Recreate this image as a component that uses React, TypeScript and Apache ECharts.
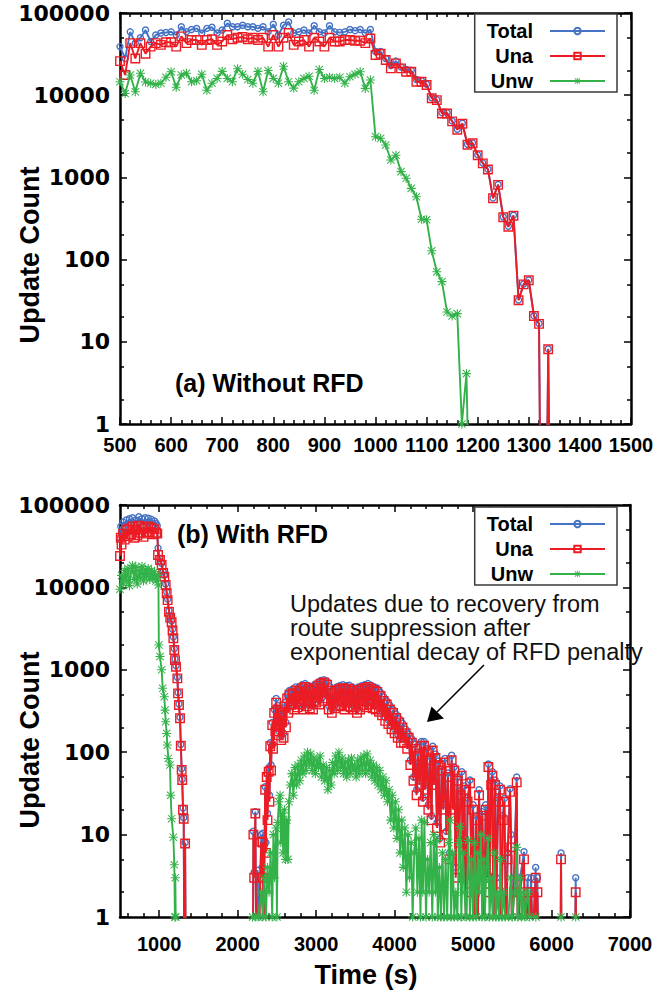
import React, { useEffect, useRef } from "react";
import * as echarts from "echarts";

// ---------------- DATA ----------------
// Panel (a): Without RFD
const topTimeTU = [
  500, 510, 520, 530, 540, 550, 560, 570, 580, 590,
  600, 610, 620, 630, 640, 650, 660, 670, 680, 690,
  700, 710, 720, 730, 740, 750, 760, 770, 780, 790,
  800, 810, 820, 830, 840, 850, 860, 870, 880, 890,
  900, 910, 920, 930, 940, 950, 960, 970, 980, 990,
  1000, 1010, 1020, 1030, 1040, 1050, 1060, 1070, 1080, 1090,
  1100, 1110, 1120, 1130, 1140, 1150, 1160, 1170, 1180, 1190,
  1200, 1210, 1220, 1230, 1240, 1250, 1260, 1270, 1280, 1290,
  1300, 1310, 1320, 1322, 1336, 1338, 1340,
];
const topTotal = [
  39000, 28000, 59000, 43000, 50000, 62000, 45000, 54000, 57000, 58000,
  59000, 54000, 68000, 59000, 63000, 65000, 57000, 65000, 67000, 57000,
  62000, 75000, 68000, 68000, 71000, 68000, 68000, 65000, 68000, 59000,
  73000, 54000, 71000, 78000, 57000, 59000, 62000, 57000, 70000, 59000,
  57000, 70000, 59000, 58000, 59000, 63000, 61000, 63000, 57000, 63000,
  34000, 34000, 28000, 23000, 26000, 22000, 20500, 20000, 15500, 15000,
  13600, 9300, 8800, 6100, 6100, 4850, 3850, 4550, 2530, 2630,
  1880, 1500, 1260, 563, 820, 330, 254, 346, 32.3, 50.5,
  56.5, 20.8, 16.7, 0.5, 0.5, 8.2, 0.5,
];
const topUna = [
  26000, 17600, 43000, 28000, 43000, 32000, 39000, 43000, 41000, 44000,
  44000, 39000, 52000, 43000, 47000, 47000, 41000, 47000, 48000, 41000,
  45000, 54000, 48000, 50000, 51000, 48000, 50000, 47000, 50000, 39000,
  54000, 39000, 50000, 57000, 41000, 45000, 47000, 39000, 50000, 45000,
  39000, 50000, 45000, 45000, 47000, 47000, 46000, 46000, 43000, 49000,
  30800, 32000, 26800, 21200, 24400, 21200, 19300, 19300, 14600, 14600,
  13300, 9200, 8700, 6000, 6000, 4800, 3800, 4500, 2500, 2600,
  1860, 1480, 1250, 557, 810, 327, 251, 342, 32, 50,
  56, 20.6, 16.5, 0.5, 0.5, 8.1, 0.5,
];
const topTimeW = [
  500, 510, 520, 530, 540, 550, 560, 570, 580, 590,
  600, 610, 620, 630, 640, 650, 660, 670, 680, 690,
  700, 710, 720, 730, 740, 750, 760, 770, 780, 790,
  800, 810, 820, 830, 840, 850, 860, 870, 880, 890,
  900, 910, 920, 930, 940, 950, 960, 970, 980, 990,
  1000, 1010, 1020, 1030, 1040, 1050, 1060, 1070, 1080, 1090,
  1100, 1110, 1120, 1130, 1140, 1150, 1160, 1169, 1178, 1181,
];
const topUnw = [
  14600, 10500, 17600, 11000, 18500, 14500, 14000, 13500, 14000, 16500,
  19300, 12500, 17600, 18500, 14600, 15000, 18000, 11500, 14000, 16000,
  19500, 16000, 14600, 21000, 18000, 15500, 14000, 19500, 11000, 20000,
  16000, 14000, 22500, 14600, 12200, 14600, 16000, 17000, 11500, 20500,
  16000, 16500, 16000, 16500, 14000, 16800, 18000, 19300, 12100, 15300,
  3130, 2990, 2480, 1630, 1860, 1175, 975, 736, 582, 310,
  305, 128, 71, 54, 23, 20.6, 22, 1, 4.1, 0.5,
];

// Panel (b): With RFD
const botTimeTU = [
  500, 510, 520, 540, 560, 580, 600, 620, 640, 660,
  680, 700, 720, 740, 760, 780, 800, 820, 840, 860,
  880, 900, 920, 940, 960, 975, 985,
  1010, 1031, 1050, 1065, 1082, 1095, 1107, 1124, 1140, 1158,
  1170, 1180, 1192, 1201, 1214, 1231, 1240, 1252, 1265, 1275,
  1286, 1293, 1303, 1312, 1318, 1330, 1336,
  2195, 2200, 2210, 2225, 2235, 2255, 2270, 2300, 2310, 2320,
  2330, 2350, 2360, 2370, 2380, 2395, 2405, 2415, 2425, 2440,
  2450, 2465, 2480, 2490, 2500, 2510, 2525, 2540, 2555, 2570,
  2585, 2600, 2615, 2630, 2645, 2660, 2680,
  2700, 2720, 2740, 2760, 2780, 2800, 2820, 2840, 2860, 2880,
  2900, 2920, 2940, 2960, 2980, 3000, 3020, 3040, 3060, 3080,
  3100, 3120, 3140, 3160, 3180, 3200, 3220, 3240, 3260, 3280,
  3300, 3320, 3340, 3360, 3380, 3400, 3420, 3440, 3460, 3480,
  3500, 3520, 3540, 3560, 3580, 3600, 3620, 3640, 3660, 3680,
  3700, 3720, 3740, 3760, 3780, 3800, 3820, 3840, 3860, 3880,
  3900, 3920, 3940, 3960, 3980, 4000, 4020, 4040, 4060, 4080,
  4100,
  4120, 4140, 4160, 4180, 4200, 4220, 4240, 4260, 4280, 4300,
  4320, 4340, 4360, 4375, 4390, 4410, 4430, 4450, 4470, 4485,
  4500, 4520, 4540, 4560, 4580, 4600, 4620, 4640, 4660, 4680,
  4700, 4727, 4745, 4760, 4780, 4800, 4820, 4840, 4855, 4870,
  4890, 4910, 4930, 4961, 4980, 5000, 5020, 5040, 5060, 5076,
  5090, 5118, 5140, 5160, 5180, 5195, 5210, 5230, 5246, 5260,
  5280, 5300, 5320, 5343, 5360, 5380, 5399, 5420, 5440, 5471,
  5485, 5495, 5520, 5556, 5570, 5600, 5649, 5660, 5696, 5705,
  5740, 5760, 5798, 5805, 5820, 5830, 6115, 6121, 6127, 6300,
  6308, 6316,
];
const botUna = [
  24000, 40000, 33000, 45000, 38000, 50000, 42000, 52000, 44000, 55000,
  40000, 50000, 43000, 56000, 46000, 52000, 41000, 54000, 45000, 55000,
  47000, 53000, 44000, 51000, 46000, 45000, 24700,
  21500, 18700, 15000, 13500, 10700, 8500, 7000, 5070, 4300, 3770,
  3000, 2410, 1740, 1310, 1090, 787, 518, 374, 258, 120,
  61, 46, 20, 15.6, 0.5, 7.8, 0.5,
  0.5, 10, 3, 18, 0.5, 0.5, 0.5, 8.2, 3, 8,
  0.5, 35, 6, 50, 15, 58, 25, 118, 60, 213,
  110, 300, 180, 400, 210, 330, 160, 300, 140, 280,
  150, 360, 200, 450, 300, 500, 380,
  520, 330, 560, 350, 550, 380, 600, 330, 620, 360,
  580, 340, 560, 330, 600, 400, 640, 380, 680, 420,
  700, 450, 660, 330, 560, 300, 520, 340, 560, 360,
  580, 370, 600, 330, 580, 360, 590, 350, 560, 330,
  520, 300, 560, 330, 580, 370, 600, 350, 620, 380,
  590, 340, 560, 330, 540, 310, 480, 280, 420, 240,
  380, 220, 330, 190, 300, 170, 260, 150, 230, 130,
  200,
  130, 170, 110, 150, 70, 130, 45, 110, 30, 90,
  40, 120, 25, 120, 35, 100, 20, 80, 15, 105,
  40, 85, 12, 70, 8, 60, 20, 75, 10, 50,
  5, 80, 20, 60, 3, 45, 8, 30, 52, 3,
  35, 0.5, 25, 42, 2, 20, 0.5, 15, 0.5, 30,
  5, 17, 0.5, 20, 3, 66, 2, 40, 52, 0.5,
  40, 2, 25, 35, 0.5, 15, 25, 0.5, 5, 33,
  7, 0.5, 2, 43, 0.5, 2, 5, 0.5, 2, 0.5,
  2, 0.5, 3, 0.5, 2, 0.5, 0.5, 5, 0.5, 0.5,
  2, 0.5,
];
const botTotal = [
  40000, 55000, 48000, 62000, 55000, 66000, 58000, 68000, 60000, 70000,
  57000, 66000, 59000, 72000, 62000, 68000, 57000, 70000, 61000, 69000,
  62000, 67000, 58000, 64000, 60000, 56000, 30000,
  22500, 19500, 15500, 14000, 11000, 8800, 7200, 5200, 4400, 3900,
  3100, 2500, 1800, 1350, 1120, 810, 530, 385, 265, 124,
  63, 47, 21, 16, 0.5, 8, 0.5,
  0.5, 11, 3.5, 19, 0.5, 3.7, 0.5, 10, 4, 10.4,
  0.5, 38, 8, 55, 18, 65, 30, 130, 70, 230,
  125, 330, 200, 450, 240, 370, 180, 340, 160, 320,
  170, 400, 230, 500, 340, 560, 420,
  580, 365, 620, 385, 610, 420, 660, 365, 680, 400,
  640, 375, 620, 365, 660, 440, 700, 420, 740, 460,
  760, 500, 720, 365, 620, 330, 570, 375, 620, 400,
  640, 410, 660, 365, 640, 400, 650, 385, 620, 365,
  580, 330, 620, 365, 640, 410, 660, 385, 680, 420,
  650, 375, 620, 365, 600, 345, 530, 310, 470, 265,
  420, 245, 370, 210, 330, 190, 290, 165, 255, 145,
  225,
  145, 190, 148, 165, 80, 145, 50, 125, 35, 100,
  45, 135, 28, 135, 40, 110, 23, 90, 17, 118,
  45, 95, 14, 78, 9, 68, 23, 84, 11, 56,
  6, 92, 23, 66, 4, 50, 9, 34, 58, 4,
  39, 0.5, 28, 46, 3, 23, 0.5, 17, 0.5, 35,
  6, 19, 0.5, 23, 4, 72, 3, 45, 58, 0.5,
  46, 3, 28, 39, 0.5, 17, 27.5, 0.5, 6, 36,
  10, 0.5, 3, 50, 0.5, 3, 6.2, 0.5, 3, 0.5,
  3, 0.5, 4, 0.5, 3, 0.5, 0.5, 6, 0.5, 0.5,
  3, 0.5,
];
const botTimeW = [
  500, 520, 540, 560, 580, 600, 620, 640, 660, 680,
  700, 720, 740, 760, 780, 800, 820, 840, 860, 880,
  900, 920, 940, 960, 980, 990, 995, 1010, 1031, 1044,
  1065, 1074, 1082, 1095, 1103, 1116, 1137, 1146, 1158, 1180,
  1192, 1200, 1205, 1210, 1215,
  2190, 2230, 2260, 2300, 2320, 2340, 2360, 2380, 2400, 2420,
  2440, 2455, 2470, 2490, 2500, 2510, 2525, 2540, 2550, 2565,
  2580, 2595, 2610, 2625, 2640, 2655, 2670, 2690, 2710, 2730,
  2750, 2770, 2790, 2810, 2830, 2850, 2870, 2890, 2910, 2930,
  2950, 2970, 2990, 3010, 3030, 3050, 3070, 3090, 3110, 3130,
  3150, 3170, 3190, 3210, 3230, 3250, 3270, 3290, 3310, 3330,
  3350, 3370, 3390, 3410, 3430, 3450, 3470, 3490, 3510, 3530,
  3550, 3570, 3590, 3610, 3630, 3650, 3670, 3690, 3710, 3730,
  3750, 3770, 3790, 3810, 3830, 3850, 3870, 3890, 3910, 3930,
  3950, 3970, 3990, 4010, 4030, 4050, 4070, 4090, 4110, 4130,
  4150, 4170, 4190, 4210, 4230, 4250,
  4270, 4290, 4310, 4330, 4345, 4360, 4380, 4400, 4420, 4440,
  4460, 4480, 4500, 4520, 4536, 4550, 4570, 4590, 4610, 4630,
  4650, 4670, 4690, 4706, 4720, 4740, 4760, 4780, 4800, 4820,
  4834, 4850, 4870, 4890, 4910, 4940, 4960, 4980, 5000, 5020,
  5040, 5060, 5080, 5100, 5115, 5135, 5150, 5170, 5190, 5210,
  5230, 5250, 5270, 5290, 5310, 5330, 5350, 5370, 5390, 5410,
  5450, 5480, 5500, 5530, 5556, 5570, 5600, 5620, 5640, 5660,
  5700, 5720, 5800, 5810, 6121, 6130, 6308,
];
const botUnw = [
  9500, 14000, 11000, 16000, 12000, 17000, 10500, 15500, 18500, 12500,
  17500, 11000, 16000, 13000, 18000, 12000, 16500, 13500, 17000, 12500,
  16000, 13000, 15500, 12000, 14000, 10700, 2000, 1450, 1000, 596,
  471, 324, 234, 169, 122, 84, 70, 30, 15.6, 9.3,
  4.3, 1, 3, 1, null,
  1, 1, 1, 2, 1, 3, 1, 4, 2, 6,
  1, 10, 3, 12, 1, 14, 25, 30, 8, 18,
  6, 20, 5, 15, 5, 25, 40, 55, 30, 65,
  40, 70, 45, 80, 55, 90, 60, 100, 70, 95,
  60, 85, 55, 80, 65, 90, 50, 70, 45, 65,
  35, 60, 40, 75, 55, 90, 60, 100, 65, 85,
  55, 75, 50, 80, 55, 85, 60, 70, 50, 80,
  55, 85, 60, 90, 55, 95, 60, 80, 50, 70,
  45, 65, 40, 60, 35, 50, 30, 45, 25, 35,
  15, 30, 12, 25, 9, 20, 6, 15, 4, 12,
  2, 10, 3, 8, 1, 6,
  12, 2, 9, 1, 15, 2, 14, 1, 5, 2,
  8, 1, 10, 2, 8.5, 1, 4, 1, 6, 1,
  5, 1, 8, 15, 1, 6, 1, 2, 1, 8,
  12.5, 1, 6, 2, 1, 8.5, 1, 5, 1, 8,
  1, 6, 2, 10, 1, 5, 1, 4, 9, 1,
  3, 1, 6, 1, 2, 1, 5, 1, 2, 1,
  1, 3, 1, 2, 7, 1, 3, 1, 2, 1,
  2, 1, 1, null, 1, null, 1,
];

const seriesNames = ["Total", "Una", "Unw"];
const yMajor = [1, 10, 100, 1000, 10000, 100000];
const yMinor = [2, 5, 20, 50, 200, 500, 2000, 5000, 20000, 50000];
const botXMajor = [1000, 2000, 3000, 4000, 5000, 6000, 7000];
const annotationLines = [
  "Updates due to recovery from",
  "route suppression after",
  "exponential decay of RFD penalty",
];

// ---------------- STYLE ----------------
const BLUE = "#4472c4";
const RED = "#ec1c24";
const GREEN = "#33b24a";
const SANS = '"Liberation Sans", Arial, sans-serif';
const DEJA = '"DejaVu Sans", sans-serif';
const STAR =
  "path://M4.4,0H5.6V10H4.4Z M0,4.4H10V5.6H0Z M1.3,0.5L9.5,8.7L8.7,9.5L0.5,1.3Z M8.7,0.5L9.5,1.3L1.3,9.5L0.5,8.7Z";

const pairs = (ts: number[], vs: (number | null)[]) =>
  ts.map((t, i) => [t, vs[i] === null ? "-" : vs[i]]);

const AX_LINE = { show: true, onZero: false, lineStyle: { color: "#000", width: 2.5 } };
const TICK_STYLE = { color: "#000", width: 1.5 };

function yAxes(grid: number, showLabels: boolean) {
  const base = {
    gridIndex: grid,
    type: "log",
    logBase: 10,
    min: 1,
    max: 100000,
    splitLine: { show: false },
    minorSplitLine: { show: false },
  };
  return [
    {
      ...base,
      position: "left",
      axisLine: AX_LINE,
      axisTick: { show: true, inside: true, length: 7, lineStyle: TICK_STYLE, customValues: yMajor },
      axisLabel: {
        show: showLabels,
        customValues: yMajor,
        formatter: (v: number) => String(Math.round(v)),
        fontFamily: DEJA,
        fontWeight: "bold",
        fontSize: 22,
        color: "#000",
        margin: 10,
      },
    },
    {
      ...base,
      position: "left",
      axisLine: { show: false },
      axisTick: { show: true, inside: true, length: 4, lineStyle: TICK_STYLE, customValues: yMinor },
      axisLabel: { show: false },
    },
    {
      ...base,
      position: "right",
      axisLine: AX_LINE,
      axisTick: { show: true, inside: true, length: 7, lineStyle: TICK_STYLE, customValues: yMajor },
      axisLabel: { show: false },
    },
    {
      ...base,
      position: "right",
      axisLine: { show: false },
      axisTick: { show: true, inside: true, length: 4, lineStyle: TICK_STYLE, customValues: yMinor },
      axisLabel: { show: false },
    },
  ];
}

const botXMinor: number[] = [];
for (let v = 600; v < 7000; v += 200) if (v % 1000 !== 0) botXMinor.push(v);

const xLabelStyle = { fontFamily: SANS, fontWeight: "bold", fontSize: 20, color: "#000" };

const xAxes = [
  // grid 0
  {
    gridIndex: 0, type: "value", min: 500, max: 1500, interval: 100, position: "bottom",
    axisLine: AX_LINE,
    axisTick: { inside: true, length: 7, lineStyle: TICK_STYLE },
    minorTick: { show: true, splitNumber: 5, length: 4, lineStyle: TICK_STYLE },
    axisLabel: { ...xLabelStyle, margin: 11, formatter: (v: number) => String(v) },
    splitLine: { show: false }, minorSplitLine: { show: false },
  },
  {
    gridIndex: 0, type: "value", min: 500, max: 1500, interval: 100, position: "top",
    axisLine: AX_LINE,
    axisTick: { inside: true, length: 7, lineStyle: TICK_STYLE },
    minorTick: { show: true, splitNumber: 5, length: 4, lineStyle: TICK_STYLE },
    axisLabel: { show: false },
    splitLine: { show: false }, minorSplitLine: { show: false },
  },
  // grid 1
  {
    gridIndex: 1, type: "value", min: 500, max: 7000, position: "bottom",
    axisLine: AX_LINE,
    axisTick: { inside: true, length: 7, lineStyle: TICK_STYLE, customValues: botXMajor },
    axisLabel: { ...xLabelStyle, margin: 17, customValues: botXMajor, formatter: (v: number) => String(v) },
    splitLine: { show: false },
  },
  {
    gridIndex: 1, type: "value", min: 500, max: 7000, position: "bottom",
    axisLine: { show: false },
    axisTick: { inside: true, length: 4, lineStyle: TICK_STYLE, customValues: botXMinor },
    axisLabel: { show: false },
    splitLine: { show: false },
  },
  {
    gridIndex: 1, type: "value", min: 500, max: 7000, position: "top",
    axisLine: AX_LINE,
    axisTick: { inside: true, length: 7, lineStyle: TICK_STYLE, customValues: botXMajor },
    axisLabel: { show: false },
    splitLine: { show: false },
  },
  {
    gridIndex: 1, type: "value", min: 500, max: 7000, position: "top",
    axisLine: { show: false },
    axisTick: { inside: true, length: 4, lineStyle: TICK_STYLE, customValues: botXMinor },
    axisLabel: { show: false },
    splitLine: { show: false },
  },
];

function lineSeries(name: string, xi: number, yi: number, data: any[]) {
  const common = {
    type: "line",
    name,
    xAxisIndex: xi,
    yAxisIndex: yi,
    data,
    clip: true,
    silent: true,
    emphasis: { disabled: true },
  };
  if (name === "Total")
    return {
      ...common,
      z: 2,
      symbol: "circle",
      symbolSize: 6,
      itemStyle: { color: "rgba(255,255,255,0)", borderColor: BLUE, borderWidth: 1.4 },
      lineStyle: { color: BLUE, width: 1.9 },
    };
  if (name === "Una")
    return {
      ...common,
      z: 3,
      symbol: "rect",
      symbolSize: 8.5,
      itemStyle: { color: "rgba(255,255,255,0)", borderColor: RED, borderWidth: 1.4 },
      lineStyle: { color: RED, width: 1.9 },
    };
  return {
    ...common,
    z: 4,
    symbol: STAR,
    symbolSize: 9,
    itemStyle: { color: GREEN },
    lineStyle: { color: GREEN, width: 1.9 },
  };
}

function legendAt(top: number) {
  return {
    show: true,
    orient: "vertical",
    align: "right",
    right: 52,
    top,
    itemWidth: 55,
    itemHeight: 8,
    itemGap: 5,
    selectedMode: false,
    borderColor: "#3a3a3a",
    borderWidth: 1.5,
    backgroundColor: "#fff",
    padding: [7, 11, 1, 12],
    textStyle: {
      fontFamily: SANS,
      fontWeight: "bold",
      fontSize: 20,
      color: "#000",
      lineHeight: 18,
      padding: [0, 12, 0, 0],
    },
    data: seriesNames,
  };
}

const titleFont = { fontFamily: SANS, fontWeight: "bold", fill: "#000" };

const graphics: any[] = [
  { type: "text", x: 175, y: 383, style: { ...titleFont, text: "(a) Without RFD", fontSize: 25, align: "left", verticalAlign: "middle" } },
  { type: "text", x: 177, y: 534, style: { ...titleFont, text: "(b) With RFD", fontSize: 25, align: "left", verticalAlign: "middle" } },
  { type: "text", x: 30, y: 255, rotation: Math.PI / 2, style: { ...titleFont, text: "Update Count", fontSize: 27, align: "center", verticalAlign: "middle" } },
  { type: "text", x: 30, y: 740, rotation: Math.PI / 2, style: { ...titleFont, text: "Update Count", fontSize: 27, align: "center", verticalAlign: "middle" } },
  { type: "text", x: 366, y: 975, style: { ...titleFont, text: "Time (s)", fontSize: 27, align: "center", verticalAlign: "middle" } },
  ...annotationLines.map((t, i) => ({
    type: "text",
    x: 290,
    y: 604 + i * 24,
    style: { text: t, fontFamily: SANS, fontSize: 23.5, fill: "#111", align: "left", verticalAlign: "middle" },
  })),
  { type: "line", shape: { x1: 484, y1: 665, x2: 437, y2: 712 }, style: { stroke: "#000", lineWidth: 1.6 } },
  { type: "polygon", shape: { points: [[427, 722], [431.5, 706.5], [444, 718.5]] }, style: { fill: "#000" } },
];

const option: any = {
  animation: false,
  backgroundColor: "#fff",
  grid: [
    { left: 120, top: 13, width: 511, height: 411 },
    { left: 120, top: 505, width: 510, height: 412 },
  ],
  xAxis: xAxes,
  yAxis: [...yAxes(0, true), ...yAxes(1, true)],
  legend: [legendAt(14), legendAt(507)],
  series: [
    lineSeries("Total", 0, 0, pairs(topTimeTU, topTotal)),
    lineSeries("Una", 0, 0, pairs(topTimeTU, topUna)),
    lineSeries("Unw", 0, 0, pairs(topTimeW, topUnw)),
    lineSeries("Total", 2, 4, pairs(botTimeTU, botTotal)),
    lineSeries("Una", 2, 4, pairs(botTimeTU, botUna)),
    lineSeries("Unw", 2, 4, pairs(botTimeW, botUnw)),
  ],
  graphic: graphics,
};

export default function App() {
  const ref = useRef<HTMLDivElement>(null);
  useEffect(() => {
    if (!ref.current) return;
    const chart = echarts.init(ref.current, null, { renderer: "svg" });
    chart.setOption(option);
    return () => chart.dispose();
  }, []);
  return (
    <div
      ref={ref}
      style={{ position: "fixed", left: 0, top: 0, width: 669, height: 994, background: "#fff" }}
    />
  );
}
